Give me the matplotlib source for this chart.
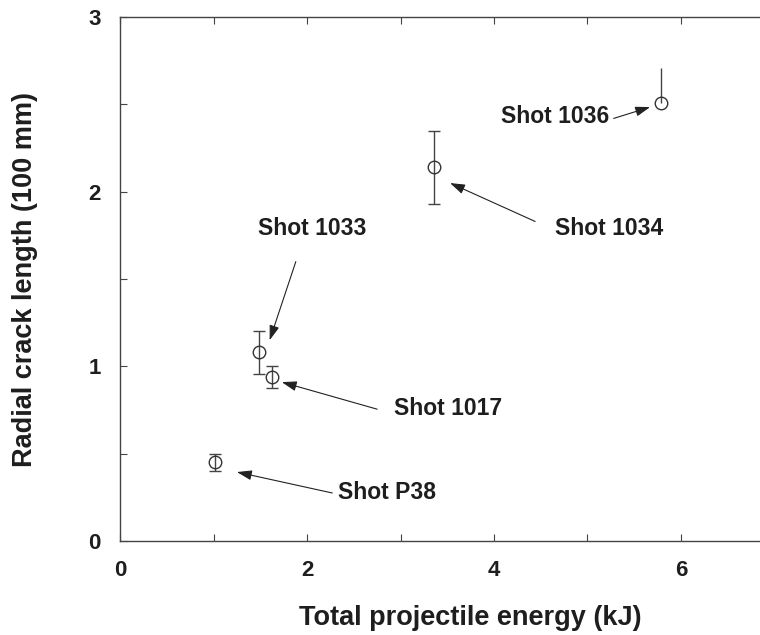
import matplotlib.pyplot as plt
from matplotlib.ticker import MultipleLocator

plt.rcParams['font.family'] = ['Liberation Sans', 'DejaVu Sans']
plt.rcParams['font.weight'] = 'bold'

# Measured shots: energy (kJ), crack length (100 mm) and error bars
shots = ['Shot P38', 'Shot 1017', 'Shot 1033', 'Shot 1034', 'Shot 1036']
energy = [1.02, 1.63, 1.49, 3.36, 5.79]
crack = [0.45, 0.94, 1.08, 2.14, 2.51]
err_low = [0.05, 0.065, 0.125, 0.21, 0.0]
err_high = [0.05, 0.065, 0.125, 0.21, 0.20]

# Label placement (text centre, arrow tail, arrow tip) in data units
label_xy = [(2.86, 0.28), (3.51, 0.76), (2.05, 1.79), (5.23, 1.79), (4.65, 2.43)]
tail_xy = [(2.27, 0.275), (2.75, 0.755), (1.88, 1.60), (4.44, 1.83), (5.28, 2.42)]
tip_xy = [(1.25, 0.395), (1.73, 0.91), (1.60, 1.15), (3.53, 2.05), (5.67, 2.485)]

ink = '#1e1e1e'
line = '#444444'

fig = plt.figure(figsize=(7.6, 6.35), dpi=100)
ax = fig.add_axes([0.158, 0.148, 0.861, 0.825])

for i in range(len(shots)):
    cap = 0 if err_low[i] == 0 else 4.5
    ax.errorbar(energy[i], crack[i], yerr=[[err_low[i]], [err_high[i]]],
                fmt='o', ms=9, mfc='none', mec='#333333', mew=1.0,
                ecolor=line, elinewidth=1.0, capsize=cap, capthick=1.0)
    ax.annotate('', xy=tip_xy[i], xytext=tail_xy[i],
                arrowprops=dict(arrowstyle='-|>,head_length=0.9,head_width=0.3',
                                color='#222222', lw=0.8, shrinkA=0, shrinkB=0))
    ax.text(label_xy[i][0], label_xy[i][1], shots[i], ha='center', va='center',
            fontsize=16.5, fontweight='bold', color=ink)

ax.set_xlim(0, 7)
ax.set_ylim(0, 3)
ax.xaxis.set_major_locator(MultipleLocator(2))
ax.xaxis.set_minor_locator(MultipleLocator(1))
ax.yaxis.set_major_locator(MultipleLocator(1))
ax.yaxis.set_minor_locator(MultipleLocator(0.5))
ax.tick_params(which='both', direction='in', top=True, right=True,
               length=5, width=0.8, color=line)
ax.tick_params(which='major', labelsize=16, pad=14, labelcolor=ink)
for s in ax.spines.values():
    s.set_color(line)
    s.set_linewidth(1.0)

ax.set_xlabel('Total projectile energy (kJ)', fontsize=19.5, fontweight='bold',
              color=ink)
ax.set_ylabel('Radial crack length (100 mm)', fontsize=19.5, fontweight='bold',
              color=ink)
ax.xaxis.set_label_coords(0.535, -0.122)
ax.yaxis.set_label_coords(-0.125, 0.5)

fig.savefig('out.png', dpi=100)
